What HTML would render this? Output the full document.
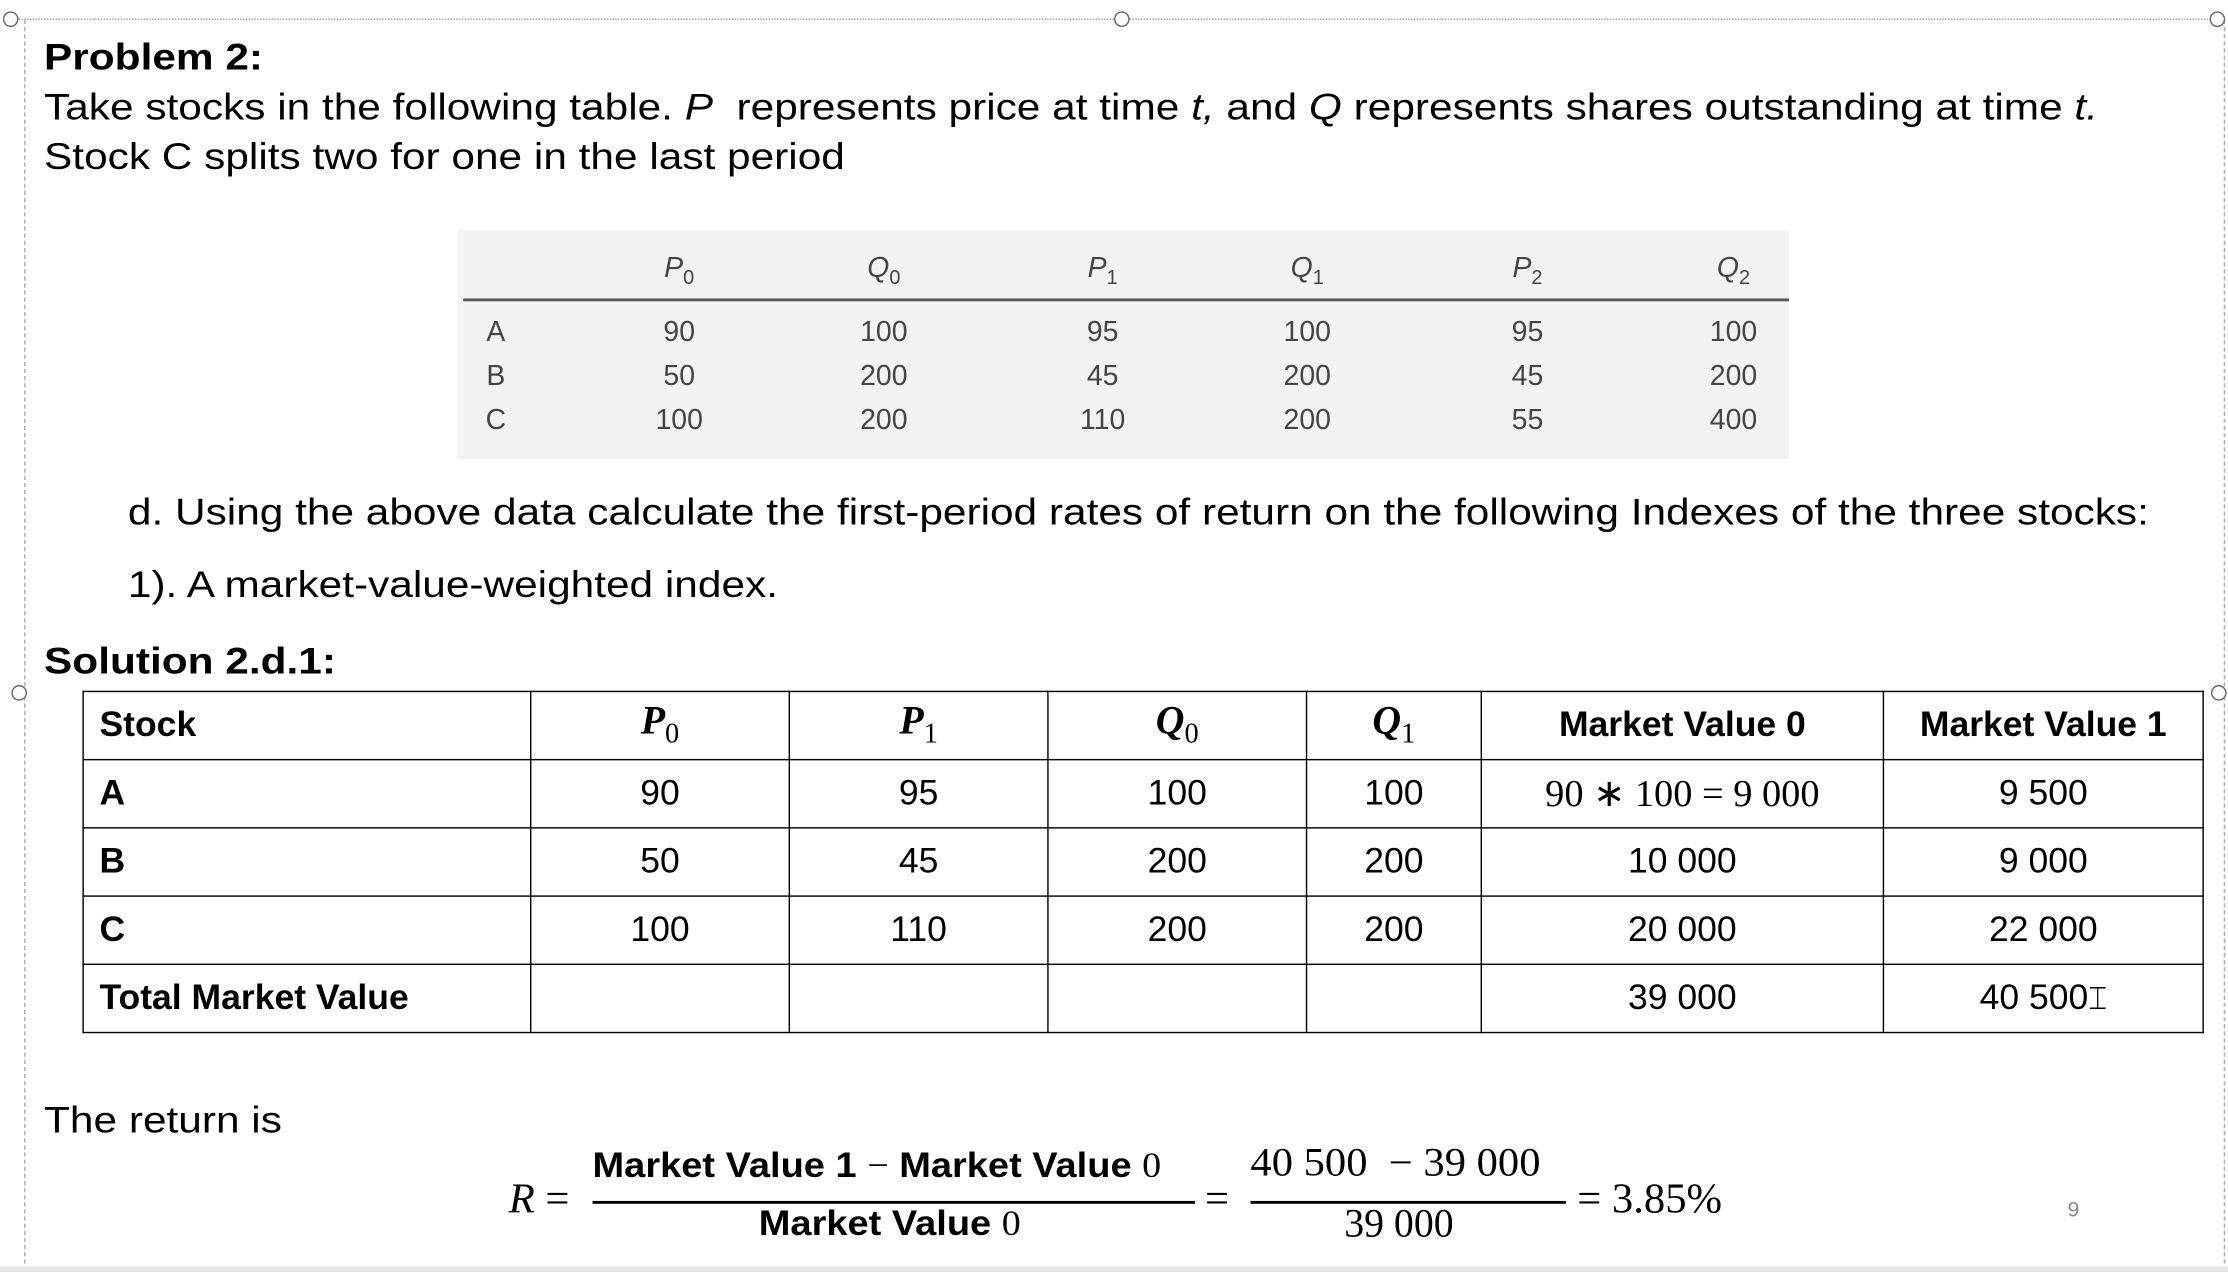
<!DOCTYPE html>
<html><head><meta charset="utf-8"><style>
html,body{margin:0;padding:0;background:#fff;overflow:hidden}
#stage{position:absolute;left:0;top:0;width:1568px;height:895px;transform-origin:0 0;transform:scale(1.42092,1.42123);font-family:"Liberation Sans",sans-serif;color:#000}
.a{position:absolute;white-space:nowrap}
.sx{transform-origin:0 0;transform:scaleX(1.147)}
.h{width:9px;height:9px;border:1.5px solid #666;border-radius:50%;background:#fff;position:absolute}
.gt{position:absolute;left:322px;top:162px;width:937px;height:161px;background:#f2f2f4}
.gc{position:absolute;font-size:20px;color:#444;transform:translateX(-50%)}
table.s{position:absolute;left:58px;top:486px;border-collapse:collapse;font-size:25px}
table.s td{border:1.5px solid #000;height:47px;padding:0;text-align:center}
table.s td.l{text-align:left;padding-left:11px;font-weight:bold}
.m{font-family:"Liberation Serif",serif}
</style></head><body>
<div id="stage">
<div class="a" style="left:12px;top:13px;width:1548px;border-top:1px dotted #999"></div>
<div class="a" style="left:17px;top:14px;height:880px;border-left:1px dashed #aaa"></div>
<div class="a" style="left:1565px;top:14px;height:880px;border-left:1px dashed #aaa"></div>
<div class="a" style="left:0;top:891px;width:1568px;height:4px;background:#e6e6e6"></div>
<div class="h" style="left:2px;top:8px"></div>
<div class="h" style="left:784px;top:8px"></div>
<div class="h" style="left:1555px;top:8px"></div>
<div class="h" style="left:8px;top:482px"></div>
<div class="h" style="left:1556px;top:482px"></div>

<div class="a sx" style="left:31px;top:25px;font-size:26px;font-weight:bold">Problem 2:</div>
<div class="a sx" style="left:31px;top:60px;font-size:26px">Take stocks in the following table. <i>P</i>&nbsp; represents price at time <i>t,</i> and <i>Q</i> represents shares outstanding at time <i>t.</i></div>
<div class="a sx" style="left:31px;top:95px;font-size:26px">Stock C splits two for one in the last period</div>

<div class="gt"></div>
<div class="a" style="left:326px;top:210px;width:933px;border-top:2px solid #555"></div>
<div id="gtc"></div>

<div class="a sx" style="left:90px;top:345px;font-size:26px">d. Using the above data calculate the first-period rates of return on the following Indexes of the three stocks:</div>
<div class="a sx" style="left:90px;top:396px;font-size:26px">1). A market-value-weighted index.</div>
<div class="a sx" style="left:31px;top:450px;font-size:26px;font-weight:bold">Solution 2.d.1:</div>

<table class="s">
<tr><td class="l" style="width:303px">Stock</td><td class="m" style="width:181px;font-size:28px"><b><i>P</i></b><sub style="font-size:20px">0</sub></td><td class="m" style="width:181px;font-size:28px"><b><i>P</i></b><sub style="font-size:20px">1</sub></td><td class="m" style="width:181px;font-size:28px"><b><i>Q</i></b><sub style="font-size:20px">0</sub></td><td class="m" style="width:122px;font-size:28px"><b><i>Q</i></b><sub style="font-size:20px">1</sub></td><td style="width:282px;font-weight:bold">Market Value 0</td><td style="width:224px;font-weight:bold">Market Value 1</td></tr>
<tr><td class="l">A</td><td>90</td><td>95</td><td>100</td><td>100</td><td class="m" style="font-size:27px">90 ∗ 100 = 9 000</td><td>9 500</td></tr>
<tr><td class="l">B</td><td>50</td><td>45</td><td>200</td><td>200</td><td>10 000</td><td>9 000</td></tr>
<tr><td class="l">C</td><td>100</td><td>110</td><td>200</td><td>200</td><td>20 000</td><td>22 000</td></tr>
<tr><td class="l">Total Market Value</td><td></td><td></td><td></td><td></td><td>39 000</td><td>40 500<span style="font-weight:normal;font-size:22px">&#x2336;</span></td></tr>
</table>

<div class="a sx" style="left:31px;top:773px;font-size:26px">The return is</div>
<div class="a m" style="left:358px;top:827px;font-size:30px"><i>R</i> =</div>
<div class="a" style="left:417px;top:806px;font-size:25px;font-weight:bold;transform-origin:0 0;transform:scaleX(1.07)">Market Value 1 <span class="m" style="font-weight:normal">−</span> Market Value <span class="m" style="font-weight:normal">0</span></div>
<div class="a" style="left:417px;top:845px;width:424px;border-top:2px solid #000"></div>
<div class="a" style="left:534px;top:847px;font-size:25px;font-weight:bold;transform-origin:0 0;transform:scaleX(1.07)">Market Value <span class="m" style="font-weight:normal">0</span></div>
<div class="a m" style="left:848px;top:827px;font-size:30px">=</div>
<div class="a m" style="left:880px;top:803px;font-size:28px;transform-origin:0 0;transform:scaleX(1.07)">40 500 &nbsp;− 39 000</div>
<div class="a" style="left:880px;top:845px;width:222px;border-top:2px solid #000"></div>
<div class="a m" style="left:946px;top:846px;font-size:28px">39 000</div>
<div class="a m" style="left:1110px;top:827px;font-size:30px">= 3.85%</div>
<div class="a" style="left:1455px;top:843px;font-size:15px;color:#888">9</div>
</div>
<script>
const rowLabels=['A','B','C'];
const headers=['P','Q','P','Q','P','Q'];
const subs=['0','0','1','1','2','2'];
const values=[[90,100,95,100,95,100],[50,200,45,200,45,200],[100,200,110,200,55,400]];
const cx=[478,622,776,920,1075,1220];
const c=document.getElementById('gtc');
function add(txt,x,y,name,html){const d=document.createElement('div');d.className='gc';d.style.left=x+'px';d.style.top=y+'px';if(html)d.innerHTML=txt;else d.textContent=txt;


c.appendChild(d);}
headers.forEach((h,i)=>add('<i>'+h+'</i><sub style="font-size:14px">'+subs[i]+'</sub>',cx[i],178,'column-header',true));
rowLabels.forEach((r,j)=>{add(r,349,223+j*31,'row-label');values[j].forEach((v,i)=>add(String(v),cx[i],223+j*31,'cell-value'));});
</script>
</body></html>
